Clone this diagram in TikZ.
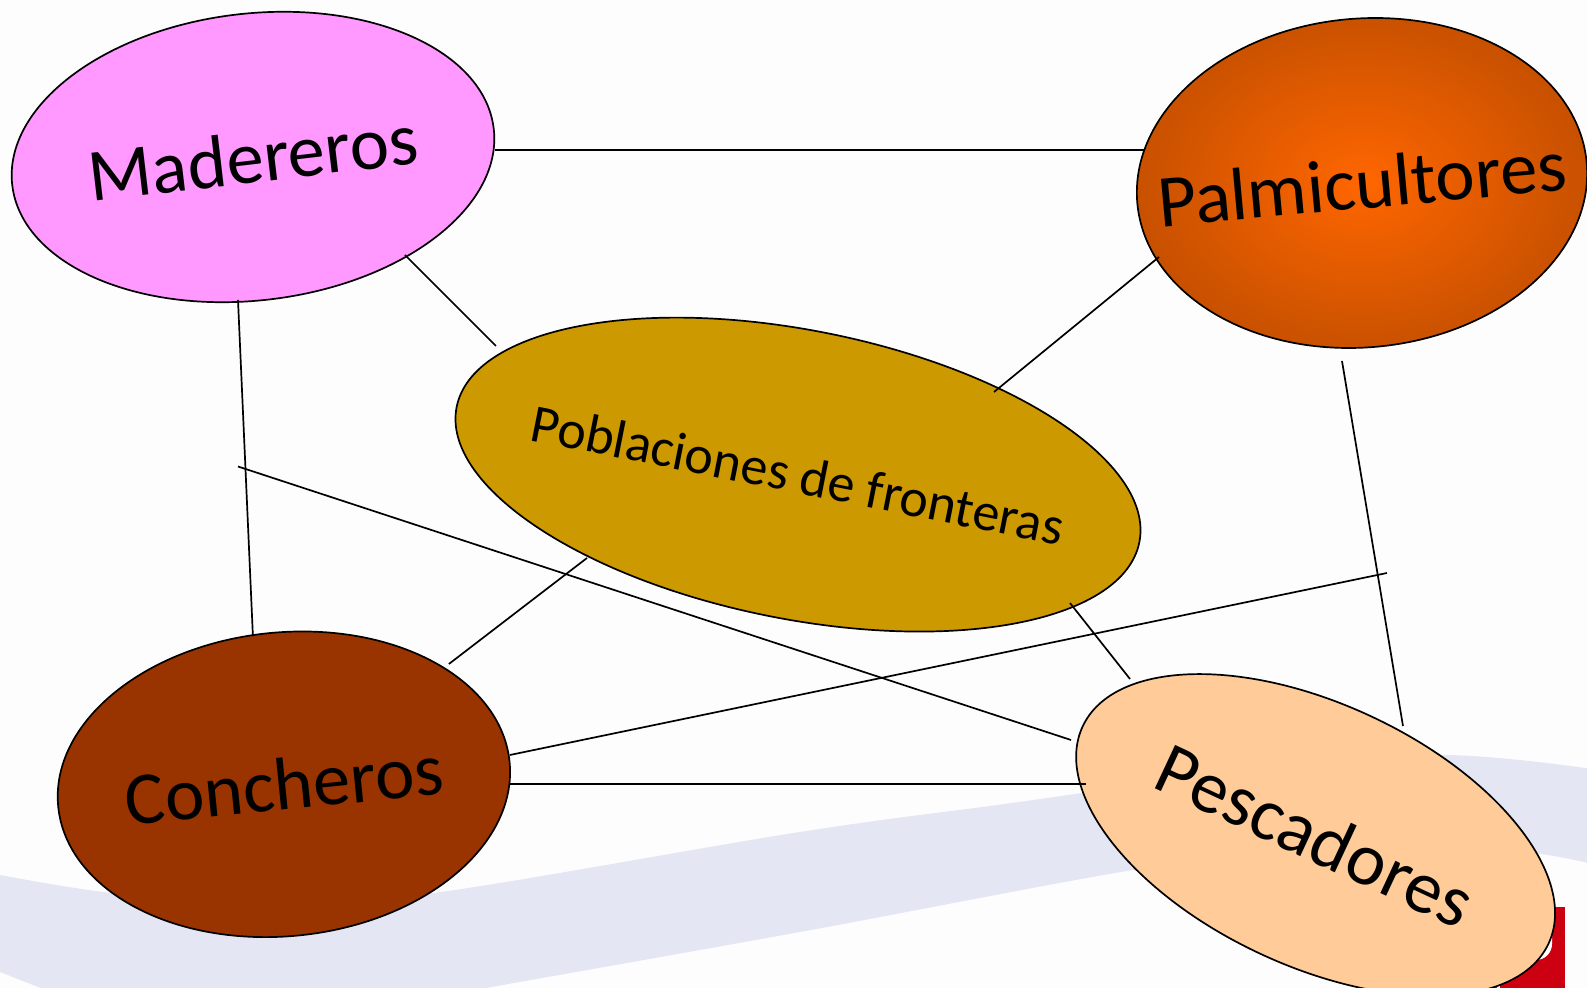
\documentclass[tikz,border=0pt]{standalone}
\usepackage{fontspec}
\setmainfont{Carlito}
\usetikzlibrary{shapes.geometric,calc}
\definecolor{bandc}{HTML}{E4E6F3}
\definecolor{pagec}{HTML}{FDFDFD}
\definecolor{madc}{HTML}{FF99FF}
\definecolor{palin}{HTML}{FF6600}
\definecolor{palout}{HTML}{C65000}
\definecolor{pobc}{HTML}{CC9900}
\definecolor{conc}{HTML}{993300}
\definecolor{pesc}{HTML}{FFCC99}
\definecolor{logored}{HTML}{CC0011}
\definecolor{logoblue}{HTML}{1259A6}
\newcommand{\zerow}[1]{\makebox[0pt][c]{#1}}
\tikzset{
  blob/.style={ellipse,draw=black,line width=0.85pt,inner sep=0pt,text=black},
  link/.style={draw=black,line width=0.85pt},
  big/.style={font=\fontsize{37.3}{40}\selectfont},
}
\begin{document}
\begin{tikzpicture}[x=0.5pt,y=-0.5pt]
\useasboundingbox (0,0) rectangle (1587,988);
\fill[pagec] (0,0) rectangle (1587,988);
% pale swoosh of the slide background
\fill[bandc] plot[smooth,tension=0.6] coordinates {(-5,874) (112,893) (270,904) (434,893) (800,832) (1012,803) (1250,770) (1440,755) (1592,769)}
  -- plot[smooth,tension=0.6] coordinates {(1592,864) (1500,850) (1300,850) (1133,870) (800,932) (463,992)}
  -- plot[smooth,tension=0.6] coordinates {(51,992) (0,972) (-5,970)} -- cycle;
% logo fragment behind the Pescadores ellipse
\fill[logored] (1500,907) rectangle (1565,988);
\fill[white,rounded corners=8pt] (1490,920) rectangle (1552,960);
\fill[logoblue] (1480,983) rectangle (1497,988);
\node[blob,fill=madc,minimum width=242.4pt,minimum height=143.4pt,rotate=6.7,big] (mad) at (253,157) {\zerow{Madereros}};
\node[blob,inner color=palin,outer color=palout,minimum width=225.6pt,minimum height=164.4pt,rotate=5.2,big] (pal) at (1362,183) {\zerow{Palmicultores}};
\node[blob,fill=pobc,minimum width=348pt,minimum height=144.4pt,rotate=-11.2,font=\fontsize{27}{30}\selectfont] (pob) at (798,474.6) {\zerow{Poblaciones de fronteras}};
\node[blob,fill=conc,minimum width=226.8pt,minimum height=151.9pt,rotate=5.7,big] (con) at (283.9,784.3) {\zerow{Concheros}};
\node[blob,fill=pesc,minimum width=257pt,minimum height=131pt,rotate=-25,big] (pes) at (1315.6,835) {\zerow{Pescadores}};
\coordinate (cross1a) at (238,466.5);
\coordinate (cross1b) at (1071,740);
\coordinate (cross2b) at (1387,573);
\draw[link] ($(mad.center)+(242,-7)$) -- ($(pal.center)+(-218,-33)$);
\draw[link] ($(mad.center)+(152,98)$) -- ($(pob.center)+(-302,-128.6)$);
\draw[link] ($(mad.center)+(-15,143)$) -- ($(con.center)+(-31,-148.3)$);
\draw[link] (cross1a) -- (cross1b);
\draw[link] ($(pal.center)+(-203,74)$) -- ($(pob.center)+(196,-82.6)$);
\draw[link] ($(pob.center)+(-211,83.4)$) -- ($(con.center)+(165,-120.3)$);
\draw[link] ($(pob.center)+(272,128.4)$) -- ($(pes.center)+(-185.6,-156)$);
\draw[link] ($(pal.center)+(-20,178)$) -- ($(pes.center)+(87.4,-109)$);
\draw[link] ($(con.center)+(226,-29.3)$) -- (cross2b);
\draw[link] ($(con.center)+(226,-0.3)$) -- ($(pes.center)+(-229.6,-51)$);
\end{tikzpicture}
\end{document}
